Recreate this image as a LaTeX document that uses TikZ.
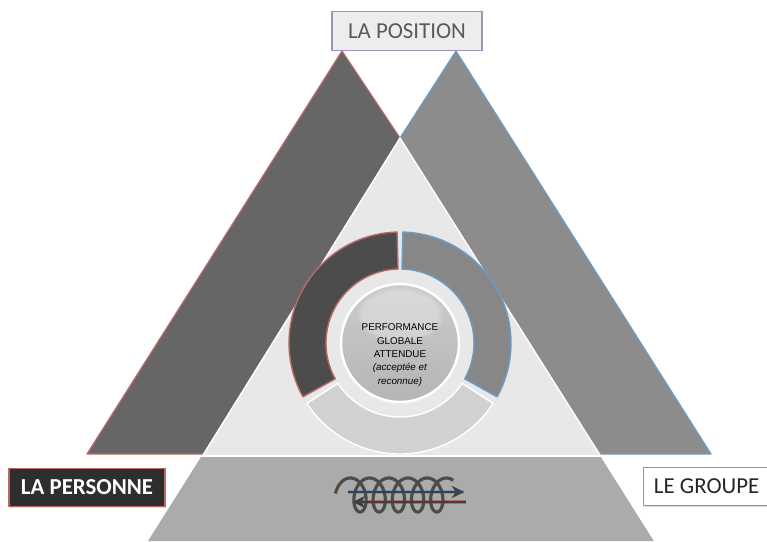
\documentclass[tikz,border=0pt]{standalone}
\usepackage{fontspec}
\setmainfont{Carlito}
\newfontfamily\arialfont{Liberation Sans}
\usetikzlibrary{shadows,fadings,arrows.meta}
\definecolor{redline}{HTML}{B96A66}
\definecolor{blueline}{HTML}{6C9CC8}
\definecolor{purpleline}{HTML}{A291BE}
\tikzstyle{labelbox} = [rectangle, line width=0.7pt, minimum width=3cm, minimum height=0.77cm, text centered, drop shadow={shadow xshift=0.6pt, shadow yshift=-0.6pt, opacity=0.3}]
\tikzstyle{positionbox} = [labelbox, draw=purpleline, fill=black!7, text=black!65, font=\fontsize{13}{15}\selectfont]
\tikzstyle{personnebox} = [labelbox, draw=redline, fill=black!82, text=white, font=\bfseries\fontsize{13}{15}\selectfont]
\tikzstyle{groupebox} = [labelbox, draw=blueline, fill=white, text=black!85, font=\fontsize{13}{15}\selectfont]
\tikzstyle{darkface} = [fill=black!60, draw=redline, line width=0.7pt, line join=round]
\tikzstyle{greyface} = [fill=black!45, draw=blueline, line width=0.7pt, line join=round]
\tikzstyle{segment} = [line width=0.8pt, line join=round]
\tikzstyle{arrow} = [black!75, line width=0.9pt, -{Stealth[length=7pt, width=7pt]}]
\begin{document}
\begin{tikzpicture}[x=0.02cm, y=0.02cm]
            \useasboundingbox (0,0) rectangle (767,541);

            % Side triangles
            \draw [darkface] (342,490) -- (87,87) -- (300,87) -- (400,403) -- cycle;
            \draw [greyface] (456,490) -- (711,87) -- (500,87) -- (400,403) -- cycle;

            % Middle triangle and base
            \fill [black!9] (400,403) -- (203,86) -- (600,86) -- cycle;
            \draw [white, line width=0.8pt] (203,86) -- (400,403) -- (600,86);
            \fill [black!33] (148,0) -- (201,84) -- (602,84) -- (655,0) -- cycle;
            \draw [white, line width=1pt] (201,85) -- (602,85) (602,84) -- (655,0);

            % Ring
            \coordinate (centre) at (400,198);
            \begin{scope}[shift={(centre)}]
                \draw [segment, fill=black!18, draw=white] (213:111) arc[start angle=213, end angle=327, radius=111] -- (327:74) arc[start angle=327, end angle=213, radius=74] -- cycle;
                \draw [segment, fill=black!70, draw=redline] (91.5:111) arc[start angle=91.5, end angle=209, radius=111] -- (209:74) arc[start angle=209, end angle=91.5, radius=74] -- cycle;
                \draw [segment, fill=black!47, draw=blueline] (88.5:111) arc[start angle=88.5, end angle=-29, radius=111] -- (-29:74) arc[start angle=-29, end angle=88.5, radius=74] -- cycle;
            \end{scope}

            % Centre
            \node (ball) [circle, minimum size=2.36cm, inner sep=0pt, draw=white, line width=1.4pt, top color=black!20, middle color=black!16, bottom color=black!29] at (centre) {};
            \fill [white, opacity=0.28, path fading=circle with fuzzy edge 15 percent] (400,226) ellipse (44 and 28);
            \node (goal) [align=center, text=black, font=\arialfont\fontsize{5.6}{7.6}\selectfont] at (400,186) {PERFORMANCE\\GLOBALE\\ATTENDUE\\\textit{(acceptée et}\\\textit{reconnue)}};

            % Spring and arrows
            \coordinate (bluestart) at (348,49);
            \coordinate (blueend) at (464,49);
            \coordinate (redstart) at (466,39);
            \coordinate (redend) at (353,39);
            \draw [blueline, line width=2.2pt] (bluestart) -- (blueend);
            \draw [redline, line width=2.4pt] (redstart) -- (redend);
            \draw [black!70, line width=1.8pt] plot [smooth, domain=-85:1830, samples=260] ({350.4+\x/360*19.2+10.5*sin(\x)}, {46+17*cos(\x)});
            \draw [arrow] (bluestart) -- (blueend);
            \draw [arrow] (redstart) -- (redend);

            % Labels
            \node (position) [positionbox, minimum width=3cm] at (407,510) {LA POSITION};
            \node (personne) [personnebox, minimum width=3.12cm] at (87,53.5) {LA PERSONNE};
            \node (groupe) [groupebox, anchor=west, minimum width=2.52cm] at (643,54.5) {LE GROUPE};
\end{tikzpicture}
\end{document}
